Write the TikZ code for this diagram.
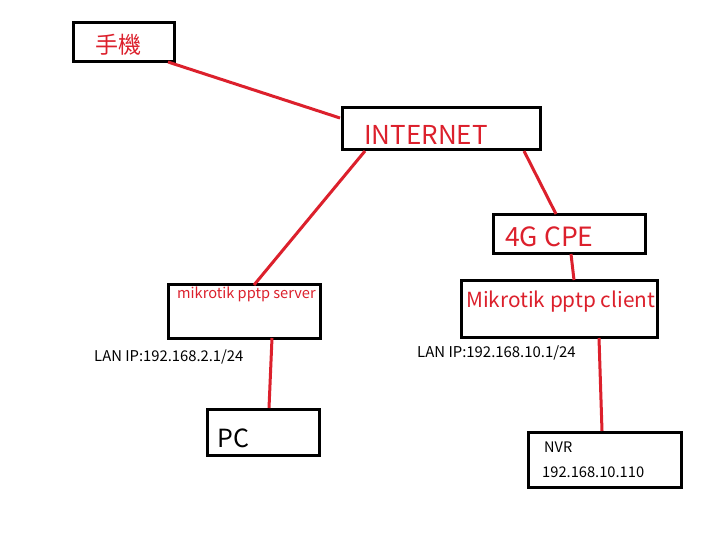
\documentclass[tikz,border=0pt]{standalone}
\usepackage{fontspec}
\setmainfont{Noto Sans CJK TC}
\definecolor{lred}{RGB}{220,32,44}
\tikzset{
  box/.style={draw=black, line width=3pt, fill=white, inner sep=0pt},
  link/.style={draw=lred, line width=3pt},
  rtxt/.style={text=lred, anchor=base west, inner sep=0pt},
  ktxt/.style={text=black, anchor=base west, inner sep=0pt},
}
\begin{document}
\begin{tikzpicture}[x=1pt,y=-1pt]
\useasboundingbox[fill=white] (0,0) rectangle (720,540);
% boxes
\node[box, minimum width=101pt, minimum height=39pt] (phone) at (123.5,42) {};
\node[box, minimum width=198pt, minimum height=42pt] (inet) at (441,129) {};
\node[box, minimum width=152pt, minimum height=54pt] (srv) at (244,311) {};
\node[box, minimum width=112pt, minimum height=46pt] (pc) at (263,432) {};
\node[box, minimum width=152pt, minimum height=38pt] (cpe) at (569,234) {};
\node[box, minimum width=196pt, minimum height=57pt] (cli) at (559,308.5) {};
\node[box, minimum width=153pt, minimum height=55pt] (nvr) at (604.5,459.5) {};
% connector end points
\coordinate (pA) at (168,62);
\coordinate (iA) at (340,118);
\coordinate (iB) at (365,151);
\coordinate (sA) at (254,285);
\coordinate (iC) at (524,151);
\coordinate (cA) at (556,214);
\coordinate (cB) at (571,254);
\coordinate (lA) at (574,280);
\coordinate (lB) at (599,338);
\coordinate (nA) at (602,431);
\coordinate (sB) at (272,338);
\coordinate (pcA) at (269,408);
% connectors
\draw[link] (pA) -- (iA);
\draw[link] (iB) -- (sA);
\draw[link] (iC) -- (cA);
\draw[link] (cB) -- (lA);
\draw[link] (lB) -- (nA);
\draw[link] (sB) -- (pcA);
% texts
\node[rtxt, font=\fontsize{23}{25}\selectfont] (tphone) at (95,54) {手機};
\node[rtxt, font=\fontsize{26}{28}\selectfont] (tinet) at (364,145) {INTERNET};
\node[rtxt, font=\fontsize{26.5}{28}\selectfont] (tcpe) at (505,247) {4G CPE};
\node[rtxt, font=\fontsize{20.8}{22}\selectfont] (tcli) at (466,307) {Mikrotik pptp client};
\node[rtxt, font=\fontsize{14.6}{16}\selectfont] (tsrv) at (177,298) {mikrotik pptp server};
\node[ktxt, font=\fontsize{14.8}{16}\selectfont] (lan1) at (94,361) {LAN IP:192.168.2.1/24};
\node[ktxt, font=\fontsize{14.9}{16}\selectfont] (lan2) at (417,357) {LAN IP:192.168.10.1/24};
\node[ktxt, font=\fontsize{25}{28}\selectfont] (tpc) at (217,447) {PC};
\node[ktxt, font=\fontsize{14.5}{16}\selectfont] (tnvr) at (544,452) {NVR};
\node[ktxt, font=\fontsize{14.7}{16}\selectfont] (tip) at (542,477) {192.168.10.110};
\end{tikzpicture}
\end{document}
